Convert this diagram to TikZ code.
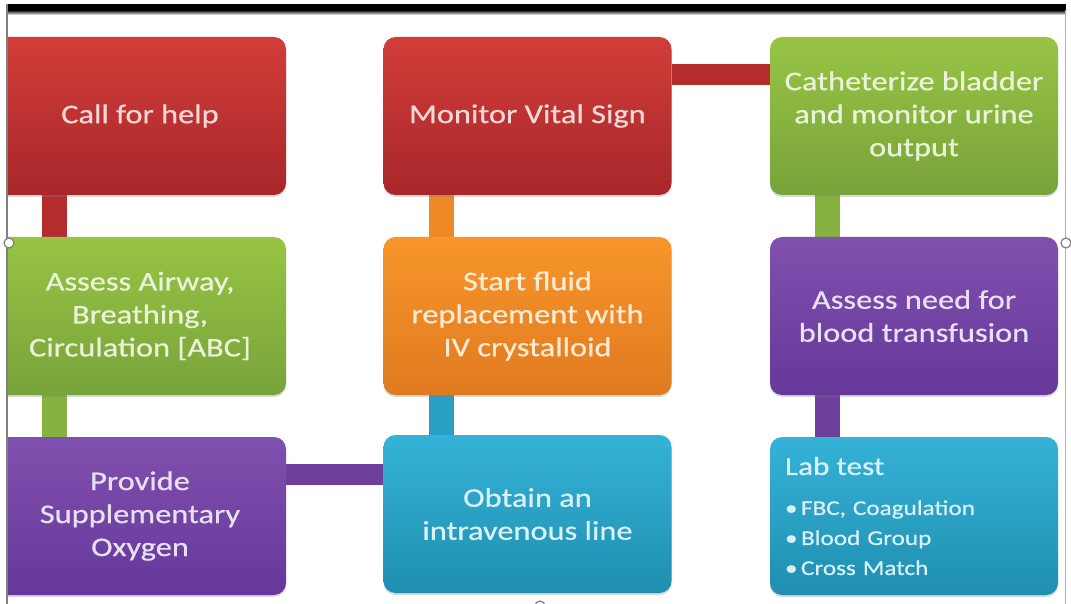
\documentclass[tikz,border=0pt]{standalone}
\usepackage{fontspec}
\setmainfont{Carlito}[FakeStretch=1.2,FakeBold=0.6]
\usetikzlibrary{backgrounds,shadows}

\definecolor{redtop}{HTML}{D23D39}\definecolor{redbot}{HTML}{A8272A}\definecolor{redlink}{HTML}{B52C2C}
\definecolor{greentop}{HTML}{98C445}\definecolor{greenbot}{HTML}{78A33A}\definecolor{greenlink}{HTML}{86B23F}
\definecolor{orangetop}{HTML}{F7962B}\definecolor{orangebot}{HTML}{E07A20}\definecolor{orangelink}{HTML}{EE8A25}
\definecolor{purpletop}{HTML}{8050AE}\definecolor{purplebot}{HTML}{65389A}\definecolor{purplelink}{HTML}{6E3F9C}
\definecolor{cyantop}{HTML}{35B2D8}\definecolor{cyanbot}{HTML}{1F8FB0}\definecolor{cyanlink}{HTML}{2A9FC4}

\tikzset{
  box/.style={rounded corners=12pt,minimum height=158pt,minimum width=288pt,align=center,
    font=\fontsize{27}{33}\selectfont,
    drop shadow={shadow xshift=0pt,shadow yshift=-2pt,opacity=.3}},
  redbox/.style={box,top color=redtop,bottom color=redbot,text=white!80!redtop},
  greenbox/.style={box,top color=greentop,bottom color=greenbot,text=white!80!greentop},
  orangebox/.style={box,top color=orangetop,bottom color=orangebot,text=white!80!orangetop},
  purplebox/.style={box,top color=purpletop,bottom color=purplebot,text=white!82!purpletop},
  cyanbox/.style={box,top color=cyantop,bottom color=cyanbot,text=white!82!cyantop},
  vlink/.style={line width=25pt},
  hlink/.style={line width=21pt},
  handle/.style={draw=gray,fill=white,line width=1.2pt}
}

\begin{document}
\begin{tikzpicture}[x=1pt,y=-1pt]
\useasboundingbox (0,0) rectangle (1071,604);
\begin{scope}
\clip (7.5,12) rectangle (1064.5,604);
% first column
\node[redbox,minimum width=292pt] (call) at (140,116) {Call for help};
\node[greenbox,minimum width=292pt] (abc) at (140,316) {Assess Airway,\\Breathing,\\Circulation [ABC]};
\node[purplebox,minimum width=292pt] (oxygen) at (140,516) {Provide\\Supplementary\\Oxygen};
% second column
\node[redbox] (vital) at (527.5,116) {Monitor Vital Sign};
\node[orangebox] (fluid) at (527.5,316) {Start fluid\\replacement with\\IV crystalloid};
\node[cyanbox] (ivline) at (527.5,514) {Obtain an\\intravenous line};
% third column
\node[greenbox] (cath) at (914,116) {Catheterize bladder\\and monitor urine\\output};
\node[purplebox] (transfuse) at (914,316) {Assess need for\\blood transfusion};
\node[cyanbox,text width=258pt,inner xsep=15pt,align=left,font=\fontsize{21}{30}\selectfont] (lab) at (914,516)
  {{\fontsize{26}{30}\selectfont Lab test}\\[10pt]
   \textbullet\,FBC, Coagulation\\
   \textbullet\,Blood Group\\
   \textbullet\,Cross Match};
% links behind the boxes
\begin{scope}[on background layer]
\draw[vlink,redlink] ([xshift=-86pt]call.south) -- ([xshift=-86pt]abc.north);
\draw[vlink,greenlink] ([xshift=-86pt]abc.south) -- ([xshift=-86pt]oxygen.north);
\draw[hlink,purplelink] ([yshift=42pt]oxygen.east) -- ([yshift=40pt]ivline.west);
\draw[vlink,cyanlink] ([xshift=-86pt]ivline.north) -- ([xshift=-86pt]fluid.south);
\draw[vlink,orangelink] ([xshift=-86pt]fluid.north) -- ([xshift=-86pt]vital.south);
\draw[hlink,redlink] ([yshift=41pt]vital.east) -- ([yshift=41pt]cath.west);
\draw[vlink,greenlink] ([xshift=-87pt]cath.south) -- ([xshift=-87pt]transfuse.north);
\draw[vlink,purplelink] ([xshift=-87pt]transfuse.south) -- ([xshift=-87pt]lab.north);
\end{scope}
\end{scope}
% screen frame
\fill[black] (7,4) rectangle (1066,10);
\shade[top color=black,bottom color=white] (7,10) rectangle (1066,15);
\draw[gray,line width=1.2pt] (7,4) -- (7,604);
\draw[gray!60,line width=.8pt] (1065.5,10) -- (1065.5,604);
\draw[handle] (9,243) circle (5pt);
\draw[handle] (1066,243) circle (5pt);
\draw[handle] (540,606) circle (5pt);
\end{tikzpicture}
\end{document}
